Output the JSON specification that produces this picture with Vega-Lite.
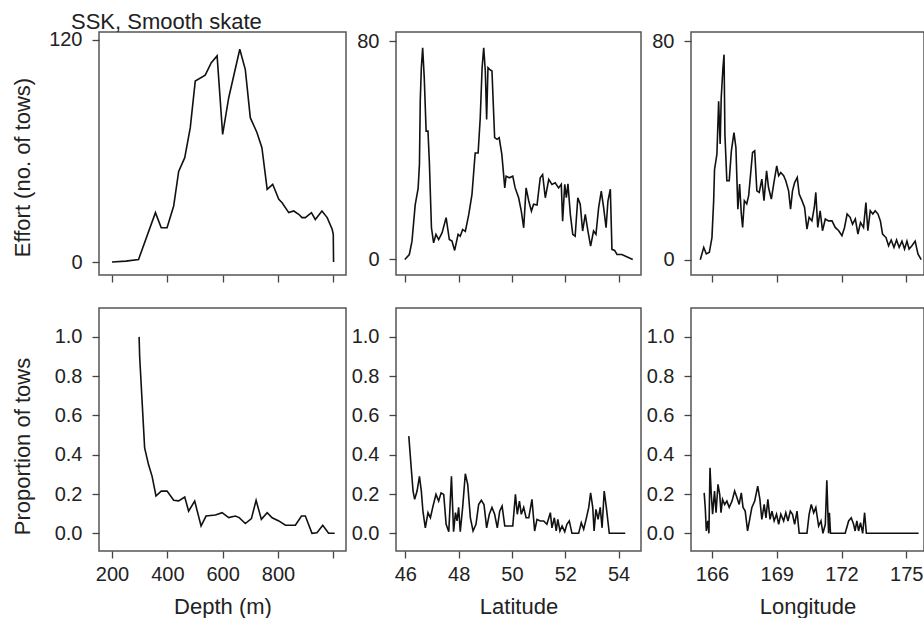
{
  "$schema": "https://vega.github.io/schema/vega-lite/v6.json",
  "padding": {"left": 10, "top": 10, "right": 0, "bottom": 0},
  "background": "white",
  "config": {
    "font": "Liberation Sans",
    "view": {"stroke": "#555", "strokeWidth": 1.5},
    "axis": {
      "domain": false, "grid": false,
      "tickSize": 7, "tickColor": "#444", "tickWidth": 1.3,
      "labelFont": "Liberation Sans", "labelFontSize": 20, "labelColor": "#222",
      "titleFont": "Liberation Sans", "titleFontSize": 22, "titleColor": "#222", "titleFontWeight": "normal",
      "labelOverlap": false, "labelBound": false, "labelFlush": false
    },
    "axisX": {"labelPadding": 6, "titlePadding": 12},
    "axisY": {"labelPadding": 10, "titlePadding": 15, "minExtent": 50, "maxExtent": 50},
    "line": {"color": "#111", "strokeWidth": 1.6}
  },
  "datasets": {
    "depthEffort": [
      {"depth": 200, "effort": 0}, {"depth": 250, "effort": 0.5}, {"depth": 296, "effort": 1.4},
      {"depth": 357, "effort": 26.7}, {"depth": 378, "effort": 18.5}, {"depth": 399, "effort": 18.5},
      {"depth": 423, "effort": 30.3}, {"depth": 441, "effort": 49}, {"depth": 463, "effort": 56.4},
      {"depth": 483, "effort": 72.6}, {"depth": 501, "effort": 97.8}, {"depth": 537, "effort": 101},
      {"depth": 559, "effort": 107.7}, {"depth": 580, "effort": 111.4}, {"depth": 600, "effort": 69},
      {"depth": 622, "effort": 88.8}, {"depth": 662, "effort": 115}, {"depth": 682, "effort": 104},
      {"depth": 700, "effort": 78}, {"depth": 724, "effort": 70}, {"depth": 742, "effort": 61.8},
      {"depth": 761, "effort": 39.3}, {"depth": 781, "effort": 42}, {"depth": 803, "effort": 33.9},
      {"depth": 815, "effort": 32}, {"depth": 839, "effort": 26.7}, {"depth": 857, "effort": 27.6},
      {"depth": 875, "effort": 25.8}, {"depth": 887, "effort": 24}, {"depth": 899, "effort": 24},
      {"depth": 921, "effort": 26.7}, {"depth": 935, "effort": 23}, {"depth": 959, "effort": 27.6},
      {"depth": 978, "effort": 24}, {"depth": 996, "effort": 17.7}, {"depth": 1000, "effort": 15},
      {"depth": 1001, "effort": 0}
    ],
    "depthProp": [
      {"depth": 298, "prop": 1.0}, {"depth": 300, "prop": 0.9}, {"depth": 318, "prop": 0.435},
      {"depth": 332, "prop": 0.35}, {"depth": 345, "prop": 0.29}, {"depth": 359, "prop": 0.19},
      {"depth": 378, "prop": 0.215}, {"depth": 399, "prop": 0.215}, {"depth": 423, "prop": 0.168},
      {"depth": 441, "prop": 0.165}, {"depth": 463, "prop": 0.185}, {"depth": 477, "prop": 0.113},
      {"depth": 499, "prop": 0.164}, {"depth": 522, "prop": 0.037}, {"depth": 540, "prop": 0.088},
      {"depth": 574, "prop": 0.093}, {"depth": 598, "prop": 0.105}, {"depth": 622, "prop": 0.08},
      {"depth": 646, "prop": 0.088}, {"depth": 660, "prop": 0.08}, {"depth": 682, "prop": 0.05},
      {"depth": 704, "prop": 0.075}, {"depth": 721, "prop": 0.168}, {"depth": 740, "prop": 0.071},
      {"depth": 761, "prop": 0.105}, {"depth": 779, "prop": 0.079}, {"depth": 803, "prop": 0.063},
      {"depth": 827, "prop": 0.041}, {"depth": 863, "prop": 0.041}, {"depth": 885, "prop": 0.088},
      {"depth": 899, "prop": 0.088}, {"depth": 923, "prop": 0}, {"depth": 941, "prop": 0.003},
      {"depth": 962, "prop": 0.041}, {"depth": 983, "prop": 0}, {"depth": 1005, "prop": 0}
    ],
    "latEffort": [
      {"lat": 45.98, "effort": 0}, {"lat": 46.15, "effort": 1.8}, {"lat": 46.25, "effort": 6.7},
      {"lat": 46.37, "effort": 20}, {"lat": 46.48, "effort": 26}, {"lat": 46.53, "effort": 35},
      {"lat": 46.56, "effort": 58}, {"lat": 46.6, "effort": 70}, {"lat": 46.65, "effort": 77.5},
      {"lat": 46.71, "effort": 66.5}, {"lat": 46.78, "effort": 47}, {"lat": 46.85, "effort": 47},
      {"lat": 46.9, "effort": 36}, {"lat": 46.98, "effort": 11.6}, {"lat": 47.06, "effort": 6.1},
      {"lat": 47.15, "effort": 9.2}, {"lat": 47.25, "effort": 7.3}, {"lat": 47.38, "effort": 9.8},
      {"lat": 47.53, "effort": 15.3}, {"lat": 47.65, "effort": 7.3}, {"lat": 47.75, "effort": 6.7},
      {"lat": 47.85, "effort": 3.3}, {"lat": 47.98, "effort": 9.2}, {"lat": 48.06, "effort": 8.5},
      {"lat": 48.15, "effort": 11}, {"lat": 48.25, "effort": 10.3}, {"lat": 48.38, "effort": 16.5},
      {"lat": 48.5, "effort": 23.8}, {"lat": 48.62, "effort": 39}, {"lat": 48.73, "effort": 39},
      {"lat": 48.81, "effort": 51.9}, {"lat": 48.88, "effort": 70.2}, {"lat": 48.94, "effort": 77.5},
      {"lat": 49.0, "effort": 69}, {"lat": 49.05, "effort": 51.3}, {"lat": 49.1, "effort": 70.2},
      {"lat": 49.16, "effort": 69.6}, {"lat": 49.25, "effort": 69}, {"lat": 49.31, "effort": 54.3},
      {"lat": 49.35, "effort": 44.6}, {"lat": 49.44, "effort": 44}, {"lat": 49.52, "effort": 44.6},
      {"lat": 49.62, "effort": 38.5}, {"lat": 49.73, "effort": 26.2}, {"lat": 49.78, "effort": 30.5},
      {"lat": 49.9, "effort": 29.9}, {"lat": 50.03, "effort": 30.5}, {"lat": 50.12, "effort": 26.2},
      {"lat": 50.25, "effort": 22.6}, {"lat": 50.35, "effort": 17.7}, {"lat": 50.44, "effort": 11.6},
      {"lat": 50.53, "effort": 26.2}, {"lat": 50.63, "effort": 21.4}, {"lat": 50.73, "effort": 17.7},
      {"lat": 50.81, "effort": 20.2}, {"lat": 50.94, "effort": 19.9}, {"lat": 51.06, "effort": 29.9},
      {"lat": 51.15, "effort": 31.1}, {"lat": 51.25, "effort": 22.6}, {"lat": 51.38, "effort": 29.3},
      {"lat": 51.5, "effort": 27.5}, {"lat": 51.62, "effort": 28.1}, {"lat": 51.75, "effort": 26.2},
      {"lat": 51.85, "effort": 27.5}, {"lat": 51.9, "effort": 14}, {"lat": 51.98, "effort": 27.5},
      {"lat": 52.04, "effort": 22.6}, {"lat": 52.1, "effort": 27.7}, {"lat": 52.19, "effort": 16.5},
      {"lat": 52.28, "effort": 9.2}, {"lat": 52.37, "effort": 8.5}, {"lat": 52.47, "effort": 22.6},
      {"lat": 52.56, "effort": 20.2}, {"lat": 52.65, "effort": 10.4}, {"lat": 52.75, "effort": 16.5},
      {"lat": 52.85, "effort": 10.4}, {"lat": 52.95, "effort": 4.9}, {"lat": 53.06, "effort": 10.4},
      {"lat": 53.15, "effort": 9.2}, {"lat": 53.25, "effort": 18.9}, {"lat": 53.35, "effort": 25},
      {"lat": 53.44, "effort": 18.9}, {"lat": 53.53, "effort": 11.6}, {"lat": 53.6, "effort": 21.4},
      {"lat": 53.69, "effort": 25.7}, {"lat": 53.75, "effort": 3.7}, {"lat": 53.85, "effort": 3.3},
      {"lat": 53.94, "effort": 1.8}, {"lat": 54.12, "effort": 1.8}, {"lat": 54.53, "effort": 0}
    ],
    "latProp": [
      {"lat": 46.13, "prop": 0.495}, {"lat": 46.23, "prop": 0.317}, {"lat": 46.29, "prop": 0.215},
      {"lat": 46.35, "prop": 0.173}, {"lat": 46.44, "prop": 0.215}, {"lat": 46.53, "prop": 0.29},
      {"lat": 46.6, "prop": 0.215}, {"lat": 46.66, "prop": 0.113}, {"lat": 46.75, "prop": 0.028},
      {"lat": 46.85, "prop": 0.105}, {"lat": 46.94, "prop": 0.079}, {"lat": 47.04, "prop": 0.139},
      {"lat": 47.15, "prop": 0.198}, {"lat": 47.25, "prop": 0.164}, {"lat": 47.34, "prop": 0.206},
      {"lat": 47.44, "prop": 0.198}, {"lat": 47.53, "prop": 0.046}, {"lat": 47.63, "prop": 0.008},
      {"lat": 47.73, "prop": 0.29}, {"lat": 47.81, "prop": 0.008}, {"lat": 47.88, "prop": 0.105},
      {"lat": 47.94, "prop": 0.063}, {"lat": 48.0, "prop": 0.132}, {"lat": 48.06, "prop": 0.008},
      {"lat": 48.15, "prop": 0.132}, {"lat": 48.25, "prop": 0.303}, {"lat": 48.34, "prop": 0.249},
      {"lat": 48.44, "prop": 0.079}, {"lat": 48.54, "prop": 0.012}, {"lat": 48.65, "prop": 0.046},
      {"lat": 48.75, "prop": 0.147}, {"lat": 48.85, "prop": 0.168}, {"lat": 48.95, "prop": 0.147},
      {"lat": 49.05, "prop": 0.028}, {"lat": 49.15, "prop": 0.097}, {"lat": 49.25, "prop": 0.132},
      {"lat": 49.35, "prop": 0.097}, {"lat": 49.45, "prop": 0.028}, {"lat": 49.54, "prop": 0.113},
      {"lat": 49.63, "prop": 0.139}, {"lat": 49.73, "prop": 0.037}, {"lat": 49.88, "prop": 0.037},
      {"lat": 50.03, "prop": 0.037}, {"lat": 50.13, "prop": 0.198}, {"lat": 50.2, "prop": 0.097},
      {"lat": 50.28, "prop": 0.164}, {"lat": 50.35, "prop": 0.097}, {"lat": 50.44, "prop": 0.132},
      {"lat": 50.53, "prop": 0.079}, {"lat": 50.63, "prop": 0.079}, {"lat": 50.75, "prop": 0.173},
      {"lat": 50.85, "prop": 0.012}, {"lat": 50.94, "prop": 0.071}, {"lat": 51.06, "prop": 0.063},
      {"lat": 51.19, "prop": 0.063}, {"lat": 51.31, "prop": 0.046}, {"lat": 51.44, "prop": 0.105},
      {"lat": 51.5, "prop": 0.028}, {"lat": 51.59, "prop": 0.079}, {"lat": 51.66, "prop": 0.012},
      {"lat": 51.72, "prop": 0.071}, {"lat": 51.8, "prop": 0.012}, {"lat": 51.88, "prop": 0.037},
      {"lat": 51.98, "prop": 0.008}, {"lat": 52.06, "prop": 0.046}, {"lat": 52.15, "prop": 0.063},
      {"lat": 52.25, "prop": 0}, {"lat": 52.37, "prop": 0}, {"lat": 52.5, "prop": 0},
      {"lat": 52.6, "prop": 0.054}, {"lat": 52.69, "prop": 0.021}, {"lat": 52.78, "prop": 0.071},
      {"lat": 52.88, "prop": 0.132}, {"lat": 52.95, "prop": 0.206}, {"lat": 53.03, "prop": 0.132},
      {"lat": 53.08, "prop": 0.012}, {"lat": 53.15, "prop": 0.122}, {"lat": 53.23, "prop": 0.071},
      {"lat": 53.31, "prop": 0.132}, {"lat": 53.38, "prop": 0.028}, {"lat": 53.46, "prop": 0.215},
      {"lat": 53.54, "prop": 0.132}, {"lat": 53.65, "prop": 0}, {"lat": 53.75, "prop": 0},
      {"lat": 54.25, "prop": 0}
    ],
    "lonEffort": [
      {"lon": 165.46, "effort": 0}, {"lon": 165.62, "effort": 4.5}, {"lon": 165.74, "effort": 2.1},
      {"lon": 165.88, "effort": 2.7}, {"lon": 166.0, "effort": 8.1}, {"lon": 166.08, "effort": 21.6},
      {"lon": 166.12, "effort": 33}, {"lon": 166.23, "effort": 38.6}, {"lon": 166.31, "effort": 58},
      {"lon": 166.38, "effort": 42.3}, {"lon": 166.43, "effort": 59.3}, {"lon": 166.51, "effort": 70.2},
      {"lon": 166.56, "effort": 75}, {"lon": 166.6, "effort": 46}, {"lon": 166.69, "effort": 28.9},
      {"lon": 166.8, "effort": 28.9}, {"lon": 166.9, "effort": 39.8}, {"lon": 167.02, "effort": 46.5},
      {"lon": 167.11, "effort": 41}, {"lon": 167.2, "effort": 18.5}, {"lon": 167.28, "effort": 27.7},
      {"lon": 167.36, "effort": 16.7}, {"lon": 167.42, "effort": 11.8}, {"lon": 167.5, "effort": 21.6},
      {"lon": 167.61, "effort": 20.4}, {"lon": 167.7, "effort": 23.4}, {"lon": 167.79, "effort": 31.3},
      {"lon": 167.88, "effort": 39.2}, {"lon": 167.98, "effort": 39.8}, {"lon": 168.08, "effort": 25.2},
      {"lon": 168.19, "effort": 24.6}, {"lon": 168.31, "effort": 29.5}, {"lon": 168.41, "effort": 21.6},
      {"lon": 168.53, "effort": 32.5}, {"lon": 168.62, "effort": 26.4}, {"lon": 168.75, "effort": 22.2},
      {"lon": 168.87, "effort": 28.2}, {"lon": 169.0, "effort": 34.3}, {"lon": 169.09, "effort": 30.7},
      {"lon": 169.19, "effort": 31.9}, {"lon": 169.32, "effort": 30.7}, {"lon": 169.42, "effort": 28.9},
      {"lon": 169.55, "effort": 25.2}, {"lon": 169.64, "effort": 18.5}, {"lon": 169.73, "effort": 25.2},
      {"lon": 169.83, "effort": 28.2}, {"lon": 169.95, "effort": 30.1}, {"lon": 170.04, "effort": 24},
      {"lon": 170.17, "effort": 21.6}, {"lon": 170.29, "effort": 19.1}, {"lon": 170.4, "effort": 11.2},
      {"lon": 170.5, "effort": 15.5}, {"lon": 170.63, "effort": 14.2}, {"lon": 170.74, "effort": 19.1},
      {"lon": 170.81, "effort": 24.6}, {"lon": 170.9, "effort": 11.8}, {"lon": 171.01, "effort": 17.9},
      {"lon": 171.12, "effort": 10.6}, {"lon": 171.25, "effort": 14.9}, {"lon": 171.4, "effort": 14.2},
      {"lon": 171.56, "effort": 14.2}, {"lon": 171.71, "effort": 11.8}, {"lon": 171.87, "effort": 10.6},
      {"lon": 172.02, "effort": 8.8}, {"lon": 172.14, "effort": 11.8}, {"lon": 172.26, "effort": 16.7},
      {"lon": 172.4, "effort": 15.5}, {"lon": 172.51, "effort": 13}, {"lon": 172.64, "effort": 14.9},
      {"lon": 172.76, "effort": 9.4}, {"lon": 172.88, "effort": 13.6}, {"lon": 173.02, "effort": 11.8},
      {"lon": 173.13, "effort": 20.9}, {"lon": 173.22, "effort": 10.6}, {"lon": 173.33, "effort": 17.9},
      {"lon": 173.45, "effort": 16.7}, {"lon": 173.56, "effort": 17.9}, {"lon": 173.69, "effort": 16.7},
      {"lon": 173.8, "effort": 14.2}, {"lon": 173.9, "effort": 9.4}, {"lon": 174.06, "effort": 8.1},
      {"lon": 174.18, "effort": 5.1}, {"lon": 174.3, "effort": 7.2}, {"lon": 174.43, "effort": 4.5},
      {"lon": 174.55, "effort": 7.2}, {"lon": 174.67, "effort": 4.5}, {"lon": 174.8, "effort": 6.8},
      {"lon": 174.92, "effort": 3.9}, {"lon": 175.03, "effort": 6.8}, {"lon": 175.13, "effort": 3.9},
      {"lon": 175.26, "effort": 5.1}, {"lon": 175.41, "effort": 6.8}, {"lon": 175.54, "effort": 2.1},
      {"lon": 175.69, "effort": 0}
    ],
    "lonProp": [
      {"lon": 165.64, "prop": 0.206}, {"lon": 165.69, "prop": 0.13}, {"lon": 165.74, "prop": 0.012},
      {"lon": 165.81, "prop": 0.063}, {"lon": 165.86, "prop": 0}, {"lon": 165.91, "prop": 0.334},
      {"lon": 165.97, "prop": 0.198}, {"lon": 166.03, "prop": 0.097}, {"lon": 166.12, "prop": 0.215},
      {"lon": 166.19, "prop": 0.105}, {"lon": 166.28, "prop": 0.249}, {"lon": 166.36, "prop": 0.198},
      {"lon": 166.42, "prop": 0.105}, {"lon": 166.49, "prop": 0.173}, {"lon": 166.59, "prop": 0.147},
      {"lon": 166.69, "prop": 0.164}, {"lon": 166.8, "prop": 0.132}, {"lon": 166.93, "prop": 0.164},
      {"lon": 167.05, "prop": 0.215}, {"lon": 167.16, "prop": 0.181}, {"lon": 167.26, "prop": 0.147},
      {"lon": 167.36, "prop": 0.206}, {"lon": 167.44, "prop": 0.132}, {"lon": 167.54, "prop": 0.113},
      {"lon": 167.65, "prop": 0.012}, {"lon": 167.76, "prop": 0.079}, {"lon": 167.85, "prop": 0.132},
      {"lon": 167.98, "prop": 0.164}, {"lon": 168.12, "prop": 0.24}, {"lon": 168.22, "prop": 0.173},
      {"lon": 168.31, "prop": 0.071}, {"lon": 168.42, "prop": 0.147}, {"lon": 168.5, "prop": 0.079},
      {"lon": 168.59, "prop": 0.173}, {"lon": 168.69, "prop": 0.071}, {"lon": 168.78, "prop": 0.113},
      {"lon": 168.88, "prop": 0.063}, {"lon": 168.99, "prop": 0.097}, {"lon": 169.09, "prop": 0.046},
      {"lon": 169.19, "prop": 0.097}, {"lon": 169.32, "prop": 0.063}, {"lon": 169.42, "prop": 0.105},
      {"lon": 169.52, "prop": 0.063}, {"lon": 169.63, "prop": 0.113}, {"lon": 169.73, "prop": 0.097},
      {"lon": 169.83, "prop": 0.046}, {"lon": 169.94, "prop": 0.113}, {"lon": 170.04, "prop": 0},
      {"lon": 170.25, "prop": 0}, {"lon": 170.4, "prop": 0}, {"lon": 170.5, "prop": 0.097},
      {"lon": 170.6, "prop": 0.147}, {"lon": 170.71, "prop": 0.105}, {"lon": 170.81, "prop": 0.132},
      {"lon": 170.94, "prop": 0.037}, {"lon": 171.05, "prop": 0.063}, {"lon": 171.14, "prop": 0},
      {"lon": 171.25, "prop": 0.046}, {"lon": 171.32, "prop": 0.27}, {"lon": 171.4, "prop": 0},
      {"lon": 171.44, "prop": 0.105}, {"lon": 171.49, "prop": 0}, {"lon": 171.71, "prop": 0},
      {"lon": 172.02, "prop": 0}, {"lon": 172.17, "prop": 0}, {"lon": 172.33, "prop": 0.063},
      {"lon": 172.45, "prop": 0.079}, {"lon": 172.56, "prop": 0.046}, {"lon": 172.63, "prop": 0.012},
      {"lon": 172.71, "prop": 0.063}, {"lon": 172.79, "prop": 0.012}, {"lon": 172.88, "prop": 0.054},
      {"lon": 172.98, "prop": 0}, {"lon": 173.07, "prop": 0.105}, {"lon": 173.15, "prop": 0},
      {"lon": 175.57, "prop": 0}
    ]
  },
  "columns": 3,
  "bounds": "flush",
  "align": "each",
  "spacing": {"row": 33, "column": 50},
  "concat": [
    {
      "width": 247, "height": 243,
      "title": {"text": "SSK, Smooth skate", "anchor": "start", "frame": "group", "dx": -28, "offset": -21, "fontSize": 22, "fontWeight": "normal", "color": "#222", "font": "Liberation Sans", "baseline": "alphabetic"},
      "data": {"name": "depthEffort"},
      "mark": {"type": "line"},
      "encoding": {
        "x": {"field": "depth", "type": "quantitative", "scale": {"domain": [153, 1046], "nice": false, "zero": false}, "axis": {"values": [200, 400, 600, 800, 1000], "labels": false, "title": null}},
        "y": {"field": "effort", "type": "quantitative", "scale": {"domain": [-7, 124.3], "nice": false, "zero": false}, "axis": {"values": [0, 120], "title": "Effort (no. of tows)", "titleY": 135}}
      }
    },
    {
      "width": 245, "height": 243,
      "data": {"name": "latEffort"},
      "mark": {"type": "line"},
      "encoding": {
        "x": {"field": "lat", "type": "quantitative", "scale": {"domain": [45.65, 54.84], "nice": false, "zero": false}, "axis": {"values": [46, 48, 50, 52, 54], "labels": false, "title": null}},
        "y": {"field": "effort", "type": "quantitative", "scale": {"domain": [-5.7, 83.3], "nice": false, "zero": false}, "axis": {"values": [0, 80], "title": null}}
      }
    },
    {
      "width": 233, "height": 243,
      "data": {"name": "lonEffort"},
      "mark": {"type": "line"},
      "encoding": {
        "x": {"field": "lon", "type": "quantitative", "scale": {"domain": [165.03, 175.82], "nice": false, "zero": false}, "axis": {"values": [166, 169, 172, 175], "labels": false, "title": null}},
        "y": {"field": "effort", "type": "quantitative", "scale": {"domain": [-5.6, 83.3], "nice": false, "zero": false}, "axis": {"values": [0, 80], "title": null}}
      }
    },
    {
      "width": 247, "height": 243,
      "data": {"name": "depthProp"},
      "mark": {"type": "line"},
      "encoding": {
        "x": {"field": "depth", "type": "quantitative", "scale": {"domain": [153, 1046], "nice": false, "zero": false}, "axis": {"values": [200, 400, 600, 800, 1000], "labelExpr": "datum.value == 1000 ? '' : datum.label", "title": "Depth (m)"}},
        "y": {"field": "prop", "type": "quantitative", "scale": {"domain": [-0.09, 1.147], "nice": false, "zero": false}, "axis": {"values": [0, 0.2, 0.4, 0.6, 0.8, 1.0], "format": ".1f", "title": "Proportion of tows", "titleY": 138}}
      }
    },
    {
      "width": 245, "height": 243,
      "data": {"name": "latProp"},
      "mark": {"type": "line"},
      "encoding": {
        "x": {"field": "lat", "type": "quantitative", "scale": {"domain": [45.65, 54.84], "nice": false, "zero": false}, "axis": {"values": [46, 48, 50, 52, 54], "title": "Latitude"}},
        "y": {"field": "prop", "type": "quantitative", "scale": {"domain": [-0.09, 1.147], "nice": false, "zero": false}, "axis": {"values": [0, 0.2, 0.4, 0.6, 0.8, 1.0], "format": ".1f", "title": null}}
      }
    },
    {
      "width": 233, "height": 243,
      "data": {"name": "lonProp"},
      "mark": {"type": "line"},
      "encoding": {
        "x": {"field": "lon", "type": "quantitative", "scale": {"domain": [165.03, 175.82], "nice": false, "zero": false}, "axis": {"values": [166, 169, 172, 175], "title": "Longitude"}},
        "y": {"field": "prop", "type": "quantitative", "scale": {"domain": [-0.09, 1.147], "nice": false, "zero": false}, "axis": {"values": [0, 0.2, 0.4, 0.6, 0.8, 1.0], "format": ".1f", "title": null}}
      }
    }
  ]
}
